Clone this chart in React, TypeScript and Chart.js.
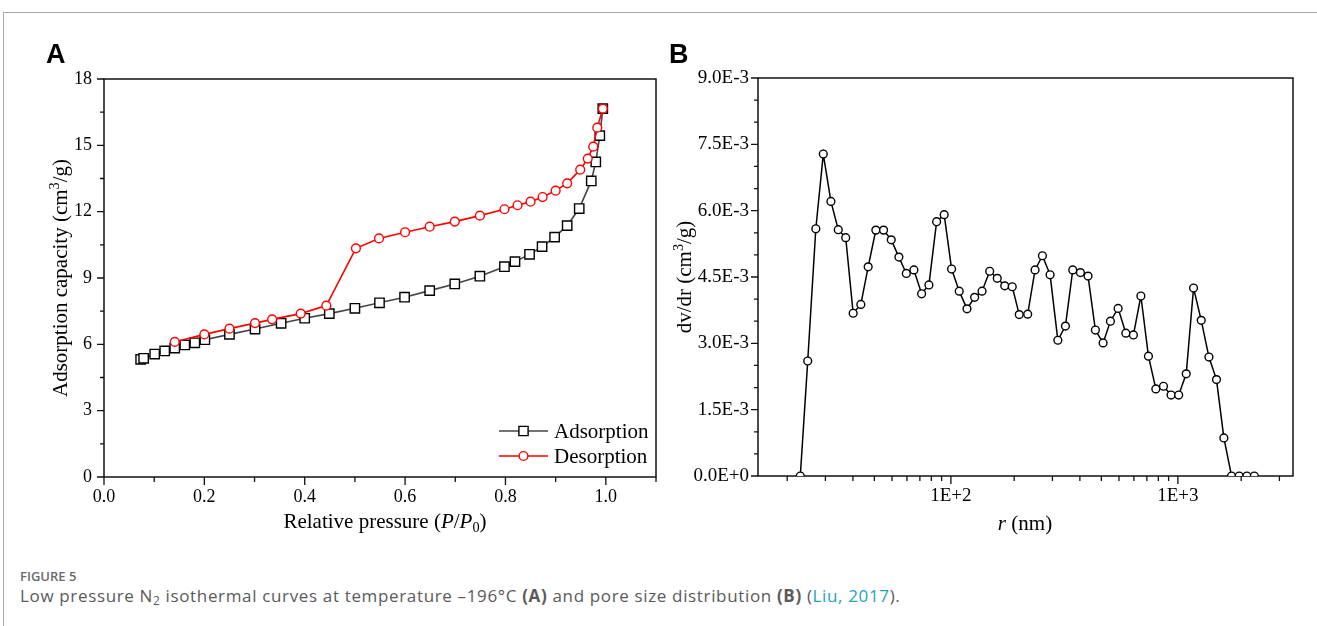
import React, { useEffect, useRef } from 'react';
import { Chart, registerables } from 'chart.js';

Chart.register(...registerables);

// ---------- Panel A : N2 isotherm ----------
const adsorptionP = [0.073, 0.079, 0.101, 0.121, 0.141, 0.161, 0.181, 0.201, 0.250, 0.301, 0.353, 0.400, 0.449, 0.500, 0.549, 0.599, 0.649, 0.699, 0.749, 0.798, 0.819, 0.848, 0.873, 0.898, 0.923, 0.947, 0.971, 0.980, 0.988, 0.994];
const adsorptionQ = [5.32, 5.37, 5.56, 5.70, 5.83, 5.97, 6.07, 6.21, 6.45, 6.69, 6.95, 7.18, 7.39, 7.63, 7.88, 8.13, 8.43, 8.73, 9.08, 9.51, 9.74, 10.07, 10.42, 10.85, 11.37, 12.14, 13.39, 14.25, 15.44, 16.66];
const desorptionP = [0.141, 0.200, 0.250, 0.301, 0.335, 0.392, 0.443, 0.502, 0.548, 0.600, 0.649, 0.699, 0.749, 0.798, 0.824, 0.850, 0.874, 0.900, 0.923, 0.949, 0.964, 0.975, 0.983, 0.994];
const desorptionQ = [6.11, 6.45, 6.71, 6.96, 7.13, 7.39, 7.75, 10.34, 10.79, 11.07, 11.32, 11.55, 11.82, 12.11, 12.29, 12.45, 12.66, 12.95, 13.28, 13.90, 14.40, 14.94, 15.80, 16.66];

const aXMajor = [0, 0.2, 0.4, 0.6, 0.8, 1.0];
const aXMinor = [0.1, 0.3, 0.5, 0.7, 0.9, 1.1];
const aXLabels = ['0.0', '0.2', '0.4', '0.6', '0.8', '1.0'];
const aYMajor = [0, 3, 6, 9, 12, 15, 18];
const aYMinor = [1.5, 4.5, 7.5, 10.5, 13.5, 16.5];
const aYLabels = ['0', '3', '6', '9', '12', '15', '18'];

// ---------- Panel B : pore size distribution ----------
const poreR = [21.7, 23.4, 25.4, 27.4, 29.6, 31.9, 34.4, 37.1, 40.1, 43.2, 46.7, 50.5, 54.6, 59.0, 63.6, 68.7, 74.3, 80.0, 86.5, 93.4, 100.7, 108.8, 117.7, 127.2, 137.1, 148.2, 160.0, 172.6, 186.3, 200.0, 217.9, 234.8, 253, 273.5, 295.9, 319.5, 344.2, 371.9, 401.9, 433, 468.2, 504.3, 545.3, 589.6, 636.8, 686.9, 741.7, 799.3, 864, 933, 1008, 1088, 1172, 1267, 1370, 1479, 1594, 1723, 1862, 2014, 2171];
const poreDvDr = [0, 2.60e-3, 5.59e-3, 7.28e-3, 6.21e-3, 5.57e-3, 5.39e-3, 3.68e-3, 3.88e-3, 4.73e-3, 5.56e-3, 5.56e-3, 5.34e-3, 4.95e-3, 4.58e-3, 4.66e-3, 4.12e-3, 4.32e-3, 5.75e-3, 5.91e-3, 4.68e-3, 4.18e-3, 3.78e-3, 4.04e-3, 4.18e-3, 4.63e-3, 4.47e-3, 4.30e-3, 4.28e-3, 3.65e-3, 3.66e-3, 4.66e-3, 4.98e-3, 4.55e-3, 3.07e-3, 3.39e-3, 4.66e-3, 4.60e-3, 4.52e-3, 3.30e-3, 3.01e-3, 3.50e-3, 3.79e-3, 3.23e-3, 3.19e-3, 4.07e-3, 2.71e-3, 1.97e-3, 2.03e-3, 1.83e-3, 1.83e-3, 2.31e-3, 4.25e-3, 3.52e-3, 2.69e-3, 2.18e-3, 0.86e-3, 0, 0, 0, 0];

const bXMajor = [100, 1000];
const bXLabels = ['1E+2', '1E+3'];
const bXMinor = [19, 28, 37, 46, 55, 64, 73, 82, 91, 190, 280, 370, 460, 550, 640, 730, 820, 910, 1900, 2800];
const bYMajor = [0, 0.0015, 0.003, 0.0045, 0.006, 0.0075, 0.009];
const bYLabels = ['0.0E+0', '1.5E-3', '3.0E-3', '4.5E-3', '6.0E-3', '7.5E-3', '9.0E-3'];
const bYMinor = [0.0005, 0.001, 0.002, 0.0025, 0.0035, 0.004, 0.005, 0.0055, 0.0065, 0.007, 0.008, 0.0085];

const SERIF = "'Liberation Serif', 'Times New Roman', serif";

const frameTicks = {
  id: 'frameTicks',
  beforeDatasetsDraw(chart: any, _args: any, opts: any) {
    const { ctx, chartArea: ca } = chart;
    const xs = chart.scales.x;
    const ys = chart.scales.y;
    ctx.save();
    ctx.strokeStyle = '#111';
    ctx.lineWidth = 1.5;
    ctx.strokeRect(ca.left, ca.top, ca.right - ca.left, ca.bottom - ca.top);
    ctx.lineWidth = 1.3;
    ctx.beginPath();
    const xt = (vals: number[], len: number) =>
      vals.forEach((v) => {
        const p = xs.getPixelForValue(v);
        ctx.moveTo(p, ca.bottom);
        ctx.lineTo(p, ca.bottom + len);
      });
    const yt = (vals: number[], len: number) =>
      vals.forEach((v) => {
        const p = ys.getPixelForValue(v);
        ctx.moveTo(ca.left, p);
        ctx.lineTo(ca.left - len, p);
      });
    xt(opts.xMajor, 8);
    xt(opts.xMinor, 5);
    yt(opts.yMajor, 7);
    yt(opts.yMinor, 4);
    ctx.stroke();
    ctx.restore();
  },
};

const isoLegend = {
  id: 'isoLegend',
  afterDatasetsDraw(chart: any, _args: any, opts: any) {
    if (!opts || !opts.items) return;
    const { ctx, chartArea: ca } = chart;
    opts.items.forEach((it: any, i: number) => {
      const y = ca.bottom - 46 + i * 25;
      const x0 = ca.right - 157;
      const x1 = ca.right - 108;
      const xm = (x0 + x1) / 2;
      ctx.save();
      ctx.strokeStyle = it.line;
      ctx.lineWidth = 1.6;
      ctx.beginPath();
      ctx.moveTo(x0, y);
      ctx.lineTo(x1, y);
      ctx.stroke();
      ctx.fillStyle = '#fff';
      ctx.strokeStyle = it.marker;
      ctx.lineWidth = 1.4;
      ctx.beginPath();
      if (it.shape === 'rect') ctx.rect(xm - 4.6, y - 4.6, 9.2, 9.2);
      else ctx.arc(xm, y, 4.4, 0, Math.PI * 2);
      ctx.fill();
      ctx.stroke();
      ctx.fillStyle = '#000';
      ctx.font = `21px ${SERIF}`;
      ctx.textBaseline = 'middle';
      ctx.textAlign = 'left';
      ctx.fillText(it.label, ca.right - 102, y + 1);
      ctx.restore();
    });
  },
};

function labelFrom(majors: number[], labels: string[]) {
  return (v: any) => {
    const i = majors.findIndex((m) => Math.abs(m - Number(v)) < 1e-9 * Math.max(1, Math.abs(m)));
    return i >= 0 ? labels[i] : '';
  };
}

function Centered(props: { x: number; y: number; size: number; rotate?: boolean; children: any }) {
  const { x, y, size, rotate, children } = props;
  return (
    <div
      style={{
        position: 'absolute',
        left: x,
        top: y,
        transform: `translate(-50%, -50%)${rotate ? ' rotate(-90deg)' : ''}`,
        whiteSpace: 'nowrap',
        fontFamily: SERIF,
        fontSize: size,
        lineHeight: 1,
        color: '#000',
      }}
    >
      {children}
    </div>
  );
}

const subStyle: any = { fontSize: '0.68em', verticalAlign: '-0.32em', lineHeight: 0 };
const supStyle: any = { fontSize: '0.68em', verticalAlign: '0.5em', lineHeight: 0 };

export default function App() {
  const refA = useRef<HTMLCanvasElement>(null);
  const refB = useRef<HTMLCanvasElement>(null);

  useEffect(() => {
    const chartA = new Chart(refA.current as HTMLCanvasElement, {
      type: 'scatter',
      data: {
        datasets: [
          {
            label: 'Desorption',
            data: desorptionP.map((x, i) => ({ x, y: desorptionQ[i] })),
            order: 0,
            showLine: true,
            borderColor: '#ff0000',
            borderWidth: 1.6,
            tension: 0,
            pointStyle: 'circle',
            pointRadius: 4.4,
            pointBorderWidth: 1.4,
            pointBorderColor: '#ff0000',
            pointBackgroundColor: '#ffffff',
          },
          {
            label: 'Adsorption',
            data: adsorptionP.map((x, i) => ({ x, y: adsorptionQ[i] })),
            order: 1,
            showLine: true,
            borderColor: '#454545',
            borderWidth: 1.6,
            tension: 0,
            pointStyle: 'rect',
            pointRadius: 6.6,
            pointBorderWidth: 1.4,
            pointBorderColor: '#000000',
            pointBackgroundColor: '#ffffff',
          },
        ],
      } as any,
      options: {
        responsive: false,
        animation: false,
        events: [],
        layout: { padding: { left: 0, top: 79, right: 44, bottom: 0 } },
        plugins: {
          legend: { display: false },
          tooltip: { enabled: false },
          frameTicks: { xMajor: aXMajor, xMinor: aXMinor, yMajor: aYMajor, yMinor: aYMinor },
          isoLegend: {
            items: [
              { label: 'Adsorption', line: '#454545', marker: '#000', shape: 'rect' },
              { label: 'Desorption', line: '#ff0000', marker: '#ff0000', shape: 'circle' },
            ],
          },
        } as any,
        scales: {
          x: {
            type: 'linear',
            min: 0,
            max: 1.1,
            bounds: 'data',
            grid: { display: false, drawTicks: false },
            border: { display: false },
            afterBuildTicks: (s: any) => {
              s.ticks = aXMajor.map((v) => ({ value: v }));
            },
            afterFit: (s: any) => {
              s.height = 83;
            },
            ticks: {
              autoSkip: false,
              maxRotation: 0,
              padding: 9,
              color: '#000',
              font: { family: SERIF, size: 18 },
              callback: labelFrom(aXMajor, aXLabels),
            },
          },
          y: {
            type: 'linear',
            min: 0,
            max: 18,
            bounds: 'data',
            grid: { display: false, drawTicks: false },
            border: { display: false },
            afterBuildTicks: (s: any) => {
              s.ticks = aYMajor.map((v) => ({ value: v }));
            },
            afterFit: (s: any) => {
              s.width = 104;
            },
            ticks: {
              autoSkip: false,
              padding: 12,
              color: '#000',
              font: { family: SERIF, size: 18 },
              callback: labelFrom(aYMajor, aYLabels),
            },
          },
        },
      } as any,
      plugins: [frameTicks, isoLegend] as any,
    });

    const chartB = new Chart(refB.current as HTMLCanvasElement, {
      type: 'scatter',
      data: {
        datasets: [
          {
            label: 'dv/dr',
            data: poreR.map((x, i) => ({ x, y: poreDvDr[i] })),
            showLine: true,
            borderColor: '#000000',
            borderWidth: 1.5,
            tension: 0,
            pointStyle: 'circle',
            pointRadius: 3.9,
            pointBorderWidth: 1.4,
            pointBorderColor: '#000000',
            pointBackgroundColor: '#ffffff',
          },
        ],
      } as any,
      options: {
        responsive: false,
        animation: false,
        events: [],
        layout: { padding: { left: 0, top: 78, right: 24, bottom: 0 } },
        plugins: {
          legend: { display: false },
          tooltip: { enabled: false },
          frameTicks: { xMajor: bXMajor, xMinor: bXMinor, yMajor: bYMajor, yMinor: bYMinor },
        } as any,
        scales: {
          x: {
            type: 'logarithmic',
            min: 14.13,
            max: 3214,
            bounds: 'data',
            grid: { display: false, drawTicks: false },
            border: { display: false },
            afterBuildTicks: (s: any) => {
              s.ticks = bXMajor.map((v) => ({ value: v }));
            },
            afterFit: (s: any) => {
              s.height = 84;
            },
            ticks: {
              autoSkip: false,
              maxRotation: 0,
              padding: 9,
              color: '#000',
              font: { family: SERIF, size: 19 },
              callback: labelFrom(bXMajor, bXLabels),
            },
          },
          y: {
            type: 'linear',
            min: 0,
            max: 0.009,
            bounds: 'data',
            grid: { display: false, drawTicks: false },
            border: { display: false },
            afterBuildTicks: (s: any) => {
              s.ticks = bYMajor.map((v) => ({ value: v }));
            },
            afterFit: (s: any) => {
              s.width = 98;
            },
            ticks: {
              autoSkip: false,
              padding: 9,
              color: '#000',
              font: { family: SERIF, size: 19 },
              callback: labelFrom(bYMajor, bYLabels),
            },
          },
        },
      } as any,
      plugins: [frameTicks] as any,
    });

    return () => {
      chartA.destroy();
      chartB.destroy();
    };
  }, []);

  return (
    <div style={{ position: 'absolute', left: 0, top: 0, width: 1317, height: 626, background: '#fff', overflow: 'hidden' }}>
      <div
        style={{
          position: 'absolute',
          left: 3,
          top: 12,
          width: 1400,
          height: 700,
          borderTop: '1px solid #a8a8a8',
          borderLeft: '1px solid #a8a8a8',
        }}
      />
      <canvas ref={refA} width={700} height={560} style={{ position: 'absolute', left: 0, top: 0, width: 700, height: 560 }} />
      <canvas ref={refB} width={657} height={560} style={{ position: 'absolute', left: 660, top: 0, width: 657, height: 560 }} />

      <div style={{ position: 'absolute', left: 46, top: 41, fontFamily: "'Liberation Sans', Arial, sans-serif", fontWeight: 700, fontSize: 27, lineHeight: 1 }}>A</div>
      <div style={{ position: 'absolute', left: 669, top: 41, fontFamily: "'Liberation Sans', Arial, sans-serif", fontWeight: 700, fontSize: 27, lineHeight: 1 }}>B</div>

      <Centered x={385} y={521} size={21}>
        Relative pressure (<i>P</i>/<i>P</i>
        <sub style={subStyle}>0</sub>)
      </Centered>
      <Centered x={60} y={278} size={21} rotate>
        Adsorption capacity (cm<sup style={supStyle}>3</sup>/g)
      </Centered>
      <Centered x={1025} y={523} size={21}>
        <i>r</i> (nm)
      </Centered>
      <Centered x={684} y={277} size={21} rotate>
        dv/dr (cm<sup style={supStyle}>3</sup>/g)
      </Centered>

      <div style={{ position: 'absolute', left: 20, top: 570, fontFamily: "'Open Sans', sans-serif", fontWeight: 600, fontSize: 13, lineHeight: 1, color: '#6a6a6a' }}>
        FIGURE 5
      </div>
      <div style={{ position: 'absolute', left: 20, top: 587, fontFamily: "'Open Sans', sans-serif", fontSize: 17, letterSpacing: 0.65, lineHeight: 1, color: '#5a5a5a', whiteSpace: 'nowrap' }}>
        Low pressure N<sub style={{ fontSize: '0.7em', verticalAlign: '-0.25em', lineHeight: 0 }}>2</sub> isothermal curves at temperature –196°C <b>(A)</b> and pore size
        distribution <b>(B)</b> (<span style={{ color: '#1ba5b8' }}>Liu, 2017</span>).
      </div>
    </div>
  );
}
